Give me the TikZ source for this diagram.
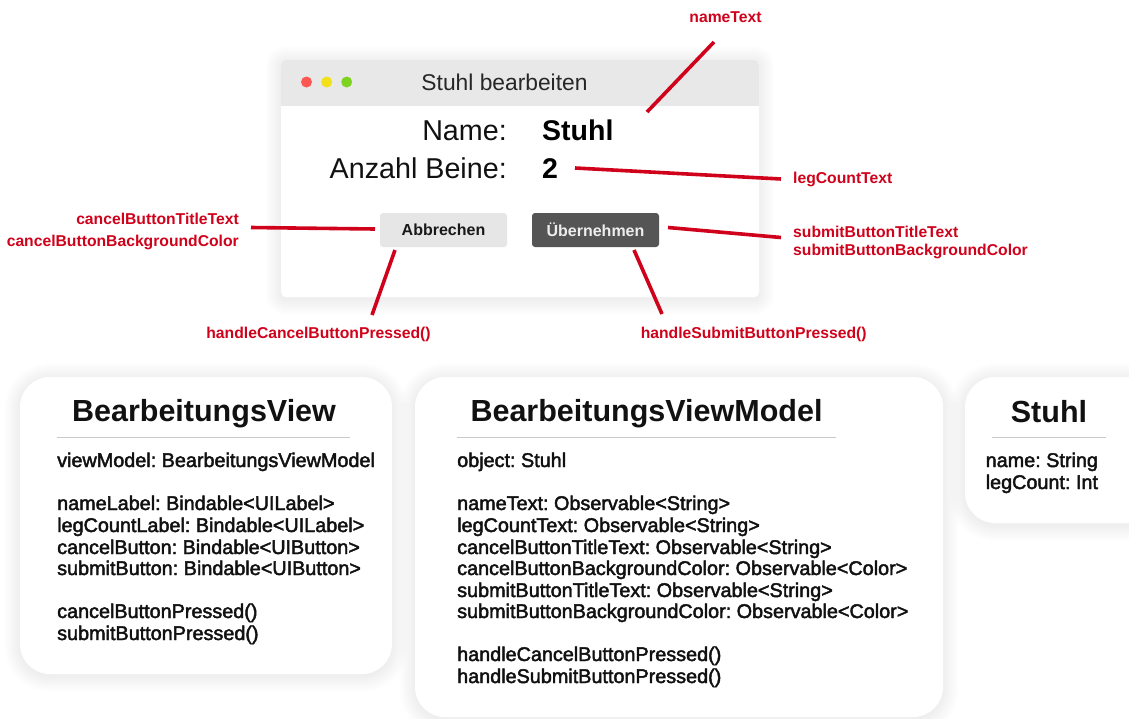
\documentclass[tikz,border=0pt]{standalone}
\usepackage{fontspec}
\setmainfont{Liberation Sans}
\newfontfamily\medfont{Liberation Sans}[FakeBold=2.2]
\definecolor{annot}{HTML}{D0021B}
\definecolor{bar}{HTML}{E8E8E8}
\definecolor{btnlight}{HTML}{E6E6E6}
\definecolor{btndark}{HTML}{555555}
\definecolor{rulegray}{HTML}{C8C8C8}
\definecolor{tlred}{HTML}{FC5753}
\definecolor{tlyellow}{HTML}{F2E01A}
\definecolor{tlgreen}{HTML}{7ED321}
\definecolor{ink}{HTML}{111111}
\tikzset{
  annotline/.style={draw=annot,line width=3.6pt},
  annotlabel/.style={text=annot,font=\fontsize{15.7}{19}\selectfont\bfseries,inner sep=0pt},
  classtitle/.style={text=ink,font=\fontsize{30.5}{34}\selectfont\bfseries,anchor=base,inner sep=0pt},
  classbody/.style={text=ink,font=\fontsize{19.8}{22}\medfont,anchor=base west,inner sep=0pt},
  classrule/.style={draw=rulegray,line width=1pt},
  classbox/.style={fill=white,rounded corners=30pt},
  winlabel/.style={text=ink,font=\fontsize{28.7}{32}\selectfont,inner sep=0pt},
  winvalue/.style={text=black,font=\fontsize{28.5}{32}\selectfont\bfseries,inner sep=0pt,anchor=base west},
  btnbox/.style={rounded corners=3pt,minimum width=127pt,minimum height=34pt,inner sep=0pt,font=\fontsize{16}{19}\selectfont\bfseries},
  light/.style={circle,inner sep=0pt,minimum size=11pt}
}
\newcommand{\softshadow}[5]{%
  \foreach \s [evaluate=\s as \r using #5+\s] in {1,...,16}
    \fill[black,opacity=0.0045,rounded corners=\r pt] (#1-\s,#2-\s+2) rectangle (#3+\s,#4+\s+2);}
\begin{document}
\frenchspacing
\begin{tikzpicture}[x=1pt,y=-1pt]
\useasboundingbox (0,0) rectangle (1129,718);
\fill[white] (0,0) rectangle (1129,718);

% ---------- window ----------
\softshadow{281}{60}{759}{297}{5}
\node[fill=white,rounded corners=5pt,minimum width=478pt,minimum height=237pt,inner sep=0pt,anchor=north west] (win) at (281,60) {};
\begin{scope}
  \clip[rounded corners=5pt] (281,60) rectangle (759,297);
  \fill[bar] (281,60) rectangle (759,106);
\end{scope}
\node[light,fill=tlred] (tlr) at (306.5,82) {};
\node[light,fill=tlyellow] (tly) at (326.7,82) {};
\node[light,fill=tlgreen] (tlg) at (346.7,82) {};
\node[text=black!85,font=\fontsize{22.8}{26}\selectfont,inner sep=0pt,anchor=base] (wintitle) at (504.5,90.5) {Stuhl bearbeiten};

\node[winlabel,anchor=base east] (namelbl) at (507,140) {Name:};
\node[winvalue] (nameval) at (542,140) {Stuhl};
\node[winlabel,anchor=base east] (leglbl) at (507,178) {Anzahl Beine:};
\node[winvalue] (legval) at (542,178) {2};

\node[btnbox,fill=btnlight,text=black!90] (cancelbtn) at (443.5,230) {Abbrechen};
\node[btnbox,fill=btndark,text=white!93!black] (submitbtn) at (595.5,230) {Übernehmen};

% ---------- annotation labels ----------
\node[annotlabel,anchor=base] (lblname) at (725.5,22) {nameText};
\node[annotlabel,anchor=base west] (lbllegcount) at (793,183.5) {legCountText};
\node[annotlabel,anchor=base west] (lblsubmit1) at (793,237.5) {submitButtonTitleText};
\node[annotlabel,anchor=base west] (lblsubmit2) at (793,255.7) {submitButtonBackgroundColor};
\node[annotlabel,anchor=base east] (lblcancel1) at (239,224.3) {cancelButtonTitleText};
\node[annotlabel,anchor=base east] (lblcancel2) at (239,246) {cancelButtonBackgroundColor};
\node[annotlabel,anchor=base] (lblhcancel) at (318.5,338) {handleCancelButtonPressed()};
\node[annotlabel,anchor=base] (lblhsubmit) at (753.7,338) {handleSubmitButtonPressed()};

% ---------- annotation lines ----------
\coordinate (nA) at (647,112); \coordinate (nB) at (714,42);
\coordinate (lA) at (575,168); \coordinate (lB) at (781,179);
\coordinate (sA) at (668,227.5); \coordinate (sB) at (781,237.5);
\coordinate (cA) at (251,227.5); \coordinate (cB) at (375,229);
\coordinate (hcA) at (395,250); \coordinate (hcB) at (372,315);
\coordinate (hsA) at (634,250); \coordinate (hsB) at (662,314);
\draw[annotline] (nA) -- (nB);
\draw[annotline] (lA) -- (lB);
\draw[annotline] (sA) -- (sB);
\draw[annotline] (cA) -- (cB);
\draw[annotline] (hcA) -- (hcB);
\draw[annotline] (hsA) -- (hsB);

% ---------- class boxes ----------
\softshadow{20}{377}{392}{674}{30}
\softshadow{415}{377}{943}{717}{30}
\softshadow{965}{377}{1160}{523}{30}
\fill[classbox] (20,377) rectangle (392,674);
\fill[classbox] (415,377) rectangle (943,717);
\fill[classbox] (965,377) rectangle (1160,523);

% BearbeitungsView
\node[classtitle] (bvtitle) at (204,421.5) {BearbeitungsView};
\coordinate (bvr1) at (57,437); \coordinate (bvr2) at (350,437);
\draw[classrule] (bvr1) -- (bvr2);
\foreach \t/\yy [count=\k] in {viewModel: BearbeitungsViewModel/467,
  nameLabel: Bindable<UILabel>/510, legCountLabel: Bindable<UILabel>/532,
  cancelButton: Bindable<UIButton>/554, submitButton: Bindable<UIButton>/575,
  cancelButtonPressed()/618, submitButtonPressed()/640}
  \node[classbody] (bv\k) at (57,\yy) {\t};

% BearbeitungsViewModel
\node[classtitle] (bvmtitle) at (646.5,421.5) {BearbeitungsViewModel};
\coordinate (bvmr1) at (457,437); \coordinate (bvmr2) at (836,437);
\draw[classrule] (bvmr1) -- (bvmr2);
\foreach \t/\yy [count=\k] in {object: Stuhl/467,
  nameText: Observable<String>/510, legCountText: Observable<String>/532,
  cancelButtonTitleText: Observable<String>/554,
  cancelButtonBackgroundColor: Observable<Color>/575,
  submitButtonTitleText: Observable<String>/597,
  submitButtonBackgroundColor: Observable<Color>/618,
  handleCancelButtonPressed()/661, handleSubmitButtonPressed()/683}
  \node[classbody] (bvm\k) at (457,\yy) {\t};

% Stuhl
\node[classtitle] (sttitle) at (1049,422) {Stuhl};
\coordinate (str1) at (992,437); \coordinate (str2) at (1106,437);
\draw[classrule] (str1) -- (str2);
\node[classbody] (st1) at (985.5,467) {name: String};
\node[classbody] (st2) at (985.5,489) {legCount: Int};
\end{tikzpicture}
\end{document}
